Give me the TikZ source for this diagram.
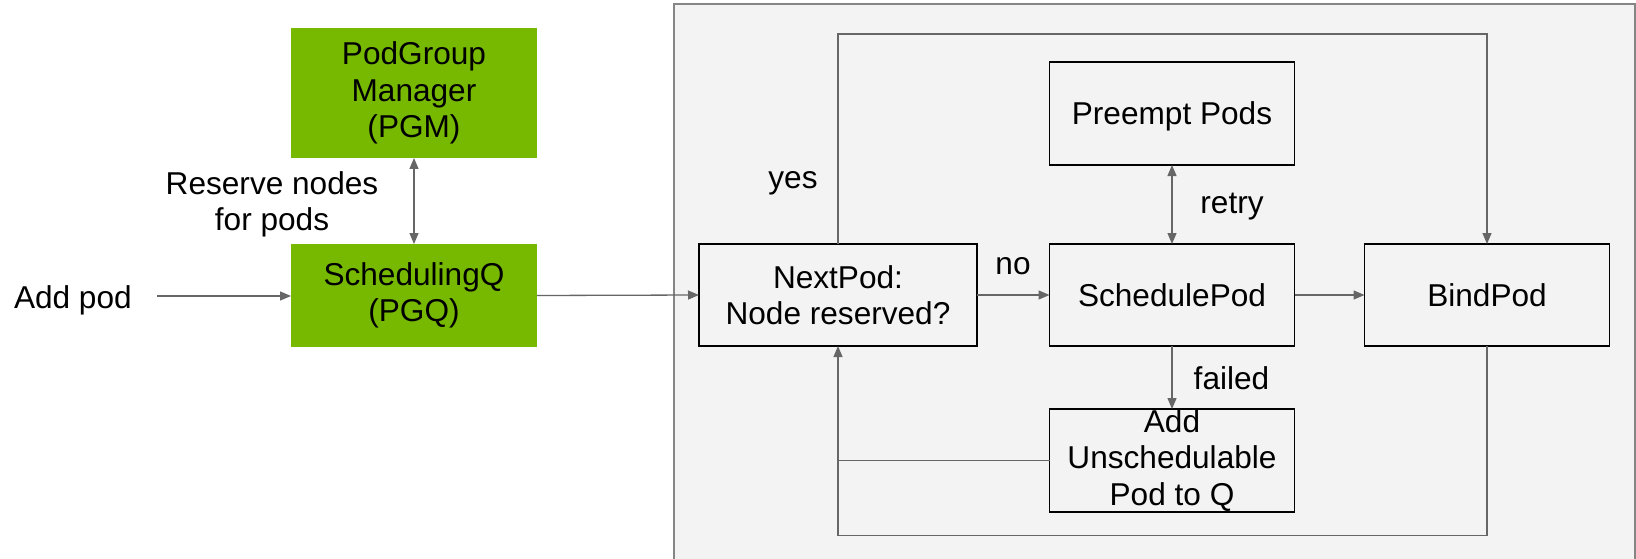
\documentclass[tikz,border=0pt]{standalone}
\usepackage{fontspec}
\setmainfont{Liberation Sans}
\usetikzlibrary{arrows.meta}
\definecolor{nvgreen}{HTML}{76B900}
\definecolor{panel}{HTML}{F3F3F3}
\definecolor{panelline}{HTML}{858585}
\definecolor{conncol}{HTML}{666666}
\begin{document}
\begin{tikzpicture}[x=1pt,y=-1pt,
  every node/.style={font=\fontsize{31.6pt}{36.4pt}\selectfont, inner sep=0pt, outer sep=0pt},
  greenbox/.style={fill=nvgreen, draw=none, minimum width=246pt, align=center},
  whitebox/.style={draw=black, line width=1.7pt, fill=panel, minimum width=245pt, minimum height=102pt, align=center},
  oneline/.style={text height=22.6pt, text depth=0pt},
  conn/.style={draw=conncol, line width=1.3pt, -{Triangle[length=11pt,width=9pt]}},
  dconn/.style={draw=conncol, line width=1.3pt, {Triangle[length=11pt,width=9pt]}-{Triangle[length=11pt,width=9pt]}},
  plain/.style={draw=conncol, line width=1.3pt},
  lbl/.style={anchor=base}
]
\clip (0,0) rectangle (1636,559);
\fill[white] (0,0) rectangle (1636,559);
% panel
\draw[fill=panel, draw=panelline, line width=1.7pt] (674,4) rectangle (1635,580);

% green boxes
\node[greenbox, minimum height=130pt] (pgm) at (414,93) {PodGroup\\Manager\\(PGM)};
\node[greenbox, minimum height=103pt] (pgq) at (414,295.5) {SchedulingQ\\(PGQ)};

% texts left
\node[anchor=base west] (addpod) at (14,308) {Add pod};
\node[align=center] (reserve) at (272,204.4) {Reserve nodes\\for pods};

% white boxes
\node[whitebox, minimum width=278pt] (next) at (838,295) {NextPod:\\Node reserved?};
\node[whitebox, oneline] (sched) at (1172,295) {SchedulePod};
\node[whitebox, oneline, minimum height=103pt] (preempt) at (1172,113.5) {Preempt Pods};
\node[whitebox, minimum height=103pt] (addq) at (1172,460.5) {Add\\Unschedulable\\Pod to Q};
\node[whitebox, oneline] (bind) at (1487,295) {BindPod};

% coordinates
\coordinate (a0) at (157,296);
\coordinate (top) at (838,34);
\coordinate (bot) at (838,535.5);

% connectors
\draw[conn] (a0) -- (a0 -| pgq.west);
\draw[dconn] (pgm.south) -- (pgq.north);
\draw[conn] (pgq.east) -- (next.west);
\draw[conn] (next.east) -- (sched.west);
\draw[conn] (sched.east) -- (bind.west);
\draw[dconn] (preempt.south) -- (sched.north);
\draw[conn] (sched.south) -- (addq.north);
\draw[conn] (next.north) -- (next.north |- top) -- (bind.north |- top) -- (bind.north);
\draw[conn] (bind.south) -- (bind.south |- bot) -- (next.south |- bot) -- (next.south);
\draw[plain] (addq.west) -- (addq.west -| next.south);

% labels
\node[lbl] (yes) at (793,189) {yes};
\node[lbl] (no) at (1013,274.5) {no};
\node[lbl] (retry) at (1232,213) {retry};
\node[lbl] (failed) at (1231.5,389.5) {failed};
\end{tikzpicture}
\end{document}
